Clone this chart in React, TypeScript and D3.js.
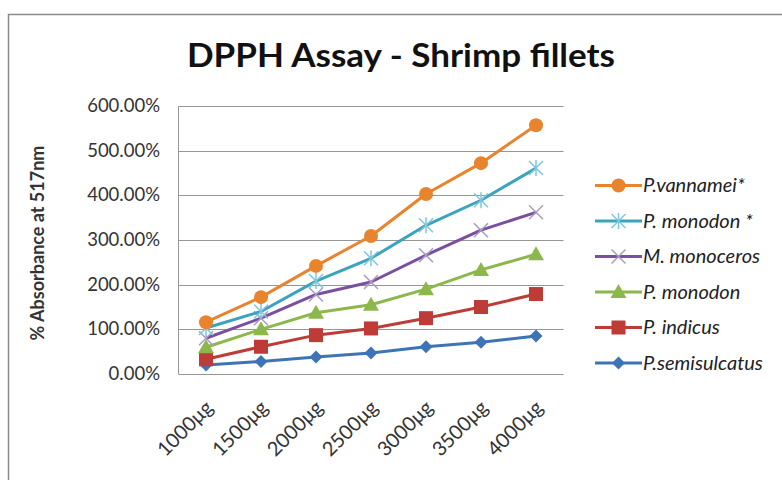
import React from "react";
import * as d3 from "d3";

const categories = ["1000μg", "1500μg", "2000μg", "2500μg", "3000μg", "3500μg", "4000μg"];
const yTicks = [0, 100, 200, 300, 400, 500, 600];
const seriesNames = ["P.vannamei*", "P. monodon *", "M. monoceros", "P. monodon", "P. indicus", "P.semisulcatus"];
const vannamei = [116, 172, 242, 309, 403, 472, 557];
const monodonStar = [103, 140, 208, 259, 333, 389, 461];
const monoceros = [80, 125, 178, 206, 266, 322, 362];
const monodon = [60, 100, 137, 155, 190, 233, 268];
const indicus = [33, 61, 87, 102, 125, 150, 179];
const semisulcatus = [20, 28, 38, 47, 61, 71, 85];

const colors = ["#E8842E", "#3AA3BD", "#7B4FA0", "#8CB84B", "#BE3C37", "#3E74B6"];
const markerColors = ["#E8842E", "#7FC8DC", "#A89BC4", "#8CB84B", "#BE3C37", "#3E74B6"];
const markers = ["circle", "star", "x", "triangle", "square", "diamond"];
const allSeries = [vannamei, monodonStar, monoceros, monodon, indicus, semisulcatus];

const FONT = "Lato, 'Open Sans', sans-serif";

function Marker({ type, x, y, color }: { type: string; x: number; y: number; color: string }) {
  if (type === "circle") return <circle cx={x} cy={y} r={7} fill={color} />;
  if (type === "square") return <rect x={x - 7} y={y - 7} width={14} height={14} fill={color} />;
  if (type === "diamond")
    return <path d={`M${x},${y - 6.5}L${x + 6.5},${y}L${x},${y + 6.5}L${x - 6.5},${y}Z`} fill={color} />;
  if (type === "triangle")
    return <path d={`M${x},${y - 8}L${x + 8},${y + 6}L${x - 8},${y + 6}Z`} fill={color} />;
  if (type === "x")
    return (
      <path d={`M${x - 7},${y - 7}L${x + 7},${y + 7}M${x - 7},${y + 7}L${x + 7},${y - 7}`} stroke={color} strokeWidth={1.5} />
    );
  return (
    <path
      d={`M${x - 7},${y - 7}L${x + 7},${y + 7}M${x - 7},${y + 7}L${x + 7},${y - 7}M${x},${y - 8}L${x},${y + 8}`}
      stroke={color}
      strokeWidth={1.5}
    />
  );
}

export default function App() {
  const W = 782, H = 480;
  const left = 178.5, right = 563.5, top = 106, bottom = 374;
  const x = d3.scaleBand<string>().domain(categories).range([left, right]);
  const y = d3.scaleLinear().domain([0, 600]).range([bottom, top]);
  const line = d3
    .line<number>()
    .x((_, i) => (x(categories[i]) as number) + x.bandwidth() / 2)
    .y((d) => y(d));

  const legendY = (i: number) => 185.5 + i * 35.5;

  return (
    <svg width={W} height={H} style={{ position: "absolute", left: 0, top: 0, background: "#fff" }} fontFamily={FONT}>
      <rect x={8.5} y={14.5} width={W + 20} height={H + 20} fill="#fff" stroke="#8a8a8a" strokeWidth={1.5} />
      <text
        x={401}
        y={67}
        textAnchor="middle"
        fontSize={32}
        fontWeight="bold"
        fill="#111"
        textLength={428}
        lengthAdjust="spacingAndGlyphs"
      >
        DPPH Assay - Shrimp fillets
      </text>
      {yTicks.map((t) => (
        <g key={t}>
          <line x1={left} x2={right} y1={Math.round(y(t)) + 0.5} y2={Math.round(y(t)) + 0.5} stroke="#969696" strokeWidth={1} />
          <text x={160} y={y(t) + 6} textAnchor="end" fontSize={18.5} fill="#333">
            {d3.format(".2f")(t) + "%"}
          </text>
        </g>
      ))}
      <line x1={left} x2={left} y1={top} y2={bottom} stroke="#969696" strokeWidth={1} />
      {categories.map((c) => {
        const cx = (x(c) as number) + x.bandwidth() / 2;
        return (
          <text
            key={c}
            transform={`translate(${cx + 8},${bottom + 35}) rotate(-45)`}
            textAnchor="end"
            fontSize={20}
            fill="#333"
          >
            {c}
          </text>
        );
      })}
      <text transform={`translate(44,243) rotate(-90)`} textAnchor="middle" fontSize={18} fontWeight="bold" fill="#333">
        % Absorbance at 517nm
      </text>
      {allSeries
        .map((s, si) => ({ s, si }))
        .reverse()
        .map(({ s, si }) => (
          <g key={si}>
            <path d={line(s) || ""} fill="none" stroke={colors[si]} strokeWidth={3} strokeLinejoin="round" />
            {s.map((v, i) => (
              <Marker
                key={i}
                type={markers[si]}
                x={(x(categories[i]) as number) + x.bandwidth() / 2}
                y={y(v)}
                color={markerColors[si]}
              />
            ))}
          </g>
        ))}
      {seriesNames.map((n, i) => (
        <g key={n}>
          <line x1={595} x2={642} y1={legendY(i)} y2={legendY(i)} stroke={colors[i]} strokeWidth={3} />
          <Marker type={markers[i]} x={618.5} y={legendY(i)} color={markerColors[i]} />
          <text x={643} y={legendY(i) + 6.5} fontSize={20} fontStyle="italic" fill="#222">
            {n}
          </text>
        </g>
      ))}
    </svg>
  );
}
